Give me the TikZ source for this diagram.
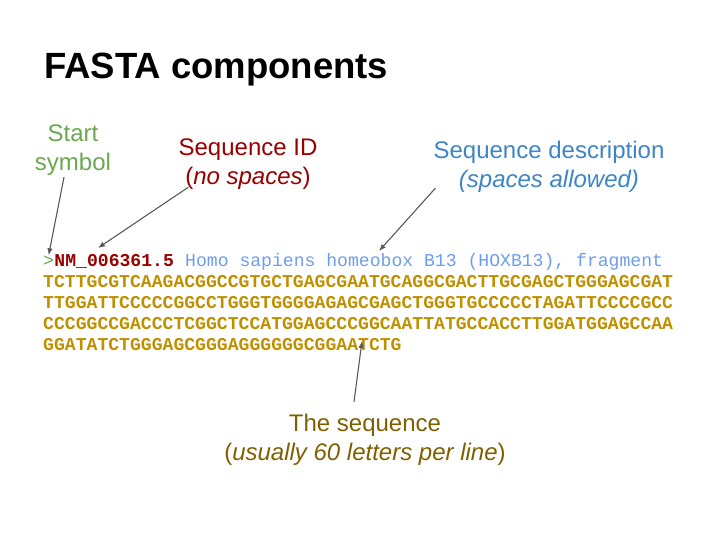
\documentclass[tikz,border=0pt]{standalone}
\usepackage{fontspec}
\setmainfont{Liberation Sans}
\setmonofont{Liberation Mono}
\usetikzlibrary{arrows.meta,positioning}
\definecolor{startgreen}{HTML}{6AA84F}
\definecolor{idred}     {HTML}{990000}
\definecolor{descblue}  {HTML}{3D85C6}
\definecolor{hdrblue}   {HTML}{6D9EEB}
\definecolor{seqgold}   {HTML}{BF9000}
\definecolor{seqbrown}  {HTML}{7F6000}
\definecolor{arrowgray} {HTML}{595959}

\begin{document}
\begin{tikzpicture}[
  x=1pt, y=-1pt,
  lab/.style={inner sep=2pt, align=center, anchor=base,
              font=\fontsize{24}{28.5}\selectfont},
  hdr/.style={inner sep=0pt, anchor=base west,
              font=\fontsize{18.1}{21}\selectfont\ttfamily},
  seqline/.style={hdr, font=\fontsize{18.1}{21}\selectfont\ttfamily\bfseries, text=seqgold},
  >={Latex[length=7pt,width=5.5pt]}, arr/.style={->, arrowgray, line width=1.1pt}
]
\useasboundingbox (0,0) rectangle (728,546);

\node[anchor=base west, inner sep=0pt, font=\fontsize{36.5}{40}\selectfont\bfseries]
  (title) at (44,78) {FASTA components};

% labels (anchored on the baseline of their last line)
\node[lab, text=startgreen] (startlbl) at (73,170) {Start\\symbol};
\node[lab, text=idred] (idlbl) at (248,184) {Sequence ID\\(\textit{no spaces})};
\node[lab, text=descblue] (desclbl) at (549,187) {Sequence description\\\textit{(spaces allowed)}};
\node[lab, text=seqbrown] (seqlbl) at (365,460) {The sequence\\(\textit{usually 60 letters per line})};

% the record
\node[hdr, text=startgreen] (gt) at (43,266) {>};
\node[hdr, text=idred, font=\fontsize{18.1}{21}\selectfont\ttfamily\bfseries]
  (seqid) at (gt.base east) {NM\_006361.5};
\node[hdr, text=hdrblue] (desc) at (seqid.base east) {~Homo sapiens homeobox B13 (HOXB13), fragment};
\node[seqline] (seq1) at (43,287) {TCTTGCGTCAAGACGGCCGTGCTGAGCGAATGCAGGCGACTTGCGAGCTGGGAGCGAT};
\node[seqline] (seq2) at (43,308) {TTGGATTCCCCCGGCCTGGGTGGGGAGAGCGAGCTGGGTGCCCCCTAGATTCCCCGCC};
\node[seqline] (seq3) at (43,329) {CCCGGCCGACCCTCGGCTCCATGGAGCCCGGCAATTATGCCACCTTGGATGGAGCCAA};
\node[seqline] (seq4) at (43,350) {GGATATCTGGGAGCGGGAGGGGGGCGGAATCTG};

\coordinate (idtip) at (98,248);
\coordinate (desctip) at (379,251);
\coordinate (seqtip) at (362,341);

\draw[arr] ([xshift=-9pt]startlbl.south) -- (gt.north);
\draw[arr] ([xshift=12pt,yshift=4pt]idlbl.south west) -- (idtip);
\draw[arr] ([xshift=4pt,yshift=6pt]desclbl.south west) -- (desctip);
\draw[arr] ([xshift=-11pt,yshift=10pt]seqlbl.north) -- (seqtip);
\end{tikzpicture}
\end{document}
